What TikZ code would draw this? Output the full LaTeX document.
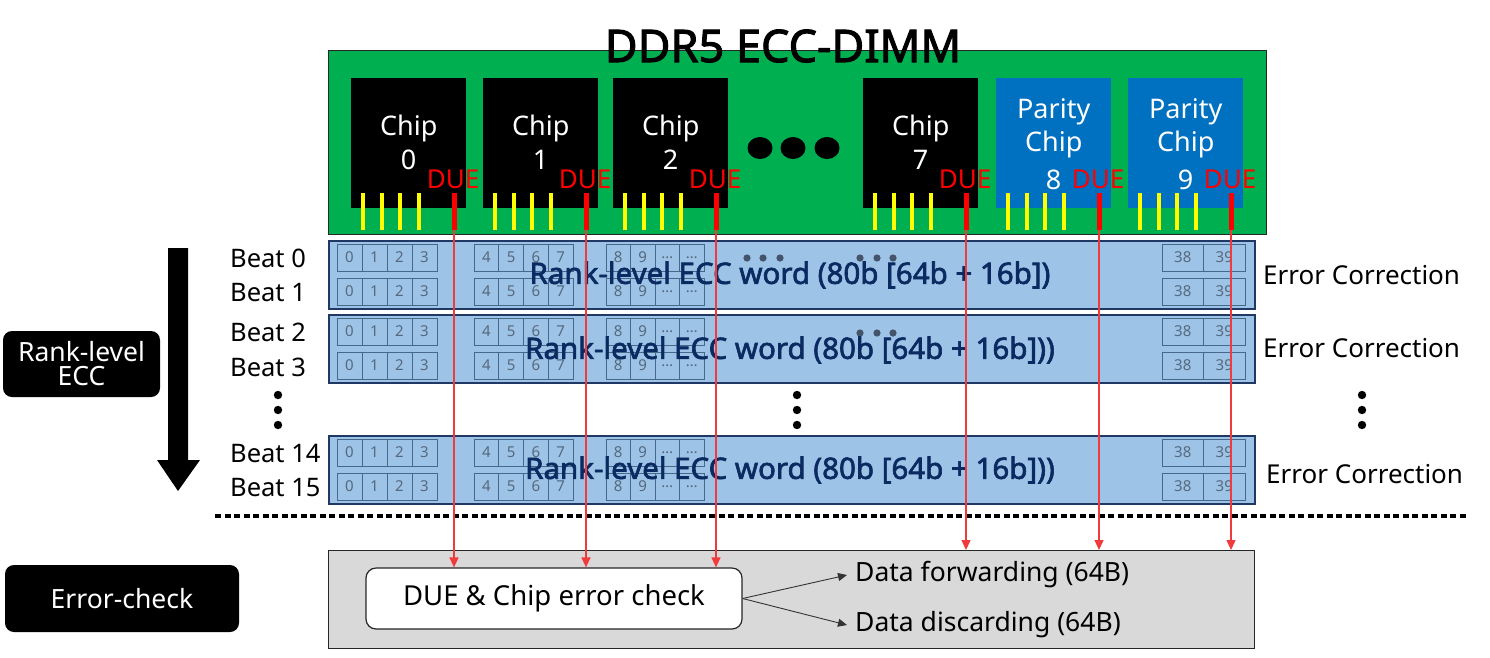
\documentclass[tikz,border=0pt]{standalone}
\usepackage{fontspec}
\setmainfont{Noto Sans}
\newfontfamily\heavysans{Noto Sans}[FakeBold=2.2]
\usetikzlibrary{arrows.meta}
\definecolor{dimmgreen}{HTML}{00B050}
\definecolor{chipblue}{HTML}{0070C0}
\definecolor{rowfill}{HTML}{9DC3E6}
\definecolor{rowline}{HTML}{203864}
\definecolor{cellline}{HTML}{46688A}
\definecolor{celltext}{HTML}{56697E}
\definecolor{wordblue}{HTML}{0B2A62}
\definecolor{pinyellow}{HTML}{FFFF00}
\definecolor{duered}{HTML}{FF0000}
\definecolor{linered}{HTML}{F03A3C}
\definecolor{boxgray}{HTML}{D9D9D9}
\definecolor{dotgray}{HTML}{44546A}
\tikzset{
  chipbox/.style={draw=none, anchor=north west, minimum width=115pt, minimum height=130pt, inner sep=0pt},
  chiptext/.style={text=white, font=\fontsize{27}{30}\selectfont, inner sep=0pt},
  duetext/.style={text=duered, font=\fontsize{26}{30}\selectfont, inner sep=0pt},
  yellowpin/.style={draw=pinyellow, line width=4pt},
  redpin/.style={draw=duered, line width=5pt},
  redlink/.style={draw=linered, line width=1.3pt, -{Triangle[length=10pt,width=9pt]}, shorten >=0pt},
  rowbox/.style={draw=rowline, fill=rowfill, line width=1.5pt, anchor=north west, minimum width=926pt, minimum height=68pt, inner sep=0pt},
  cell/.style={draw=cellline, line width=1pt},
  celllabel/.style={text=celltext, font=\fontsize{15}{17}\selectfont, inner sep=0pt},
  wordtext/.style={text=wordblue, font=\heavysans\fontsize{29.5}{32}\selectfont, inner sep=0pt},
  beattext/.style={font=\fontsize{25.5}{28}\selectfont, anchor=west, inner sep=0pt},
  corrtext/.style={font=\fontsize{26}{28}\selectfont, anchor=west, inner sep=0pt},
  datatext/.style={font=\fontsize{26.5}{28}\selectfont, anchor=west, inner sep=0pt},
  blacklabel/.style={fill=black, text=white, rounded corners=9pt, font=\fontsize{26.5}{28}\selectfont, align=center, inner sep=0pt},
  flowarrow/.style={draw=black!80, line width=0.9pt, -{Triangle[length=9pt,width=8pt]}},
}
\newcommand\cellrow[5]{% y-top, x-start, cell width, count, labels
  \foreach \lab [count=\i from 0] in {#5} {
    \draw[cell] ({#2+\i*#3},#1) rectangle ({#2+(\i+1)*#3},{#1+27});
    \node[celllabel] at ({#2+(\i+0.5)*#3},{#1+13.5}) {\lab};
  }
}
\newcommand\rowcells[1]{% row top
  \foreach \dy in {4,38} {
    \pgfmathsetmacro\yy{#1+\dy}
    \cellrow{\yy}{337}{25}{4}{0,1,2,3}
    \cellrow{\yy}{474}{24.75}{4}{4,5,6,7}
    \cellrow{\yy}{606}{24.5}{4}{8,9,…,…}
    \cellrow{\yy}{1162}{41.5}{2}{38,39}
  }
}
\begin{document}
\begin{tikzpicture}[x=1pt,y=-1pt]
\useasboundingbox (0,0) rectangle (1490,657);

% DIMM board
\node[draw=black!85, line width=1.2pt, fill=dimmgreen, anchor=north west, minimum width=938pt, minimum height=184pt, inner sep=0pt] (dimm) at (328,50) {};
\node[font=\heavysans\fontsize{45}{50}\selectfont, inner sep=0pt] (title) at (783,46) {DDR5 ECC-DIMM};

% chips
\node[chipbox, fill=black] (c0) at (351,78) {};
\node[chipbox, fill=black] (c1) at (483,78) {};
\node[chipbox, fill=black] (c2) at (613,78) {};
\node[chipbox, fill=black] (c7) at (863,78) {};
\node[chipbox, fill=chipblue] (c8) at (996,78) {};
\node[chipbox, fill=chipblue] (c9) at (1128,78) {};

\foreach \n/\num in {c0/0,c1/1,c2/2,c7/7} {
  \node[chiptext] (\n a) at ([yshift=15pt]\n.center) {Chip};
  \node[chiptext] (\n b) at ([yshift=-17pt]\n.center) {\num};
}
\foreach \n/\num in {c8/8,c9/9} {
  \node[chiptext] (\n a) at ([yshift=31pt]\n.center) {Parity};
  \node[chiptext] (\n b) at ([yshift=-1pt]\n.center) {Chip};
  \node[chiptext] (\n c) at ([yshift=-37pt]\n.center) {\num};
}

% ellipsis dots between chips
\foreach \x in {760,793,827} {
  \fill (\x,148) ellipse (12.5pt and 11pt);
}

% pins and DUE labels
\foreach \n/\L in {c0/351,c1/483,c2/613,c7/863,c8/996,c9/1128} {
  \foreach \k in {0,1,2,3} {
    \draw[yellowpin] ({\L+12+\k*18.5},193) -- ({\L+12+\k*18.5},230);
  }
  \draw[redpin] ({\L+103},193) -- ({\L+103},230);
  \coordinate (\n pin) at ({\L+103},230);
  \node[duetext] (\n due) at ({\L+102},179) {DUE};
}

% ECC word rows
\node[rowbox] (r1) at (328,240) {};
\node[rowbox] (r2) at (328,314) {};
\node[rowbox] (r3) at (328,435) {};
\rowcells{240}
\rowcells{314}
\rowcells{435}

\foreach \x in {747,763,780,860,877,893} { \fill[dotgray] (\x,258) circle (3.6pt); }
\foreach \x in {860,877,893} { \fill[dotgray] (\x,333) circle (3.6pt); }

\node[wordtext] (w1) at (790,275) {Rank-level ECC word (80b [64b + 16b])};
\node[wordtext] (w2) at (790,350) {Rank-level ECC word (80b [64b + 16b]))};
\node[wordtext] (w3) at (790,470) {Rank-level ECC word (80b [64b + 16b]))};

% beat labels
\node[beattext] (b0) at (230,258) {Beat 0};
\node[beattext] (b1) at (230,293) {Beat 1};
\node[beattext] (b2) at (230,332) {Beat 2};
\node[beattext] (b3) at (230,367) {Beat 3};
\node[beattext] (b14) at (230,453) {Beat 14};
\node[beattext] (b15) at (230,488) {Beat 15};
\foreach \x in {278,797,1362} {
  \foreach \y in {395,410,425} { \fill (\x,\y) circle (4.2pt); }
}

% error correction labels
\node[corrtext] (e1) at (1263,275) {Error Correction};
\node[corrtext] (e2) at (1263,348) {Error Correction};
\node[corrtext] (e3) at (1266,474) {Error Correction};

% big arrow
\fill (168,248) -- (188,248) -- (188,460) -- (200,460) -- (178,491) -- (157,460) -- (168,460) -- cycle;

% black labels
\node[blacklabel, minimum width=157pt, minimum height=66pt] (rl) at (81.5,364) {Rank-level\\[-4pt]ECC};
\node[blacklabel, minimum width=234pt, minimum height=67pt] (ec) at (122,598.5) {Error-check};

% separator
\draw[line width=4pt, dash pattern=on 6pt off 3.5pt] (215,516) -- (1467,516);

% error-check area
\node[draw=black!85, line width=1.2pt, fill=boxgray, anchor=north west, minimum width=926pt, minimum height=98pt, inner sep=0pt] (gray) at (328,550) {};
\node[draw=black!85, line width=1.2pt, fill=white, rounded corners=10pt, minimum width=376pt, minimum height=61pt, inner sep=0pt, font=\fontsize{27.5}{30}\selectfont] (due) at (554,598.5) {DUE \& Chip error check};
\node[datatext] (fw) at (855,575) {Data forwarding (64B)};
\node[datatext] (dc) at (855,625) {Data discarding (64B)};
\draw[flowarrow] (due.east) -- ([xshift=-8pt]fw.west);
\draw[flowarrow] (due.east) -- ([xshift=-8pt]dc.west);

% red links
\foreach \n in {c0,c1,c2} { \draw[redlink] (\n pin) -- (\n pin |- due.north); }
\foreach \n in {c7,c8,c9} { \draw[redlink] (\n pin) -- (\n pin |- gray.north); }
\end{tikzpicture}
\end{document}
